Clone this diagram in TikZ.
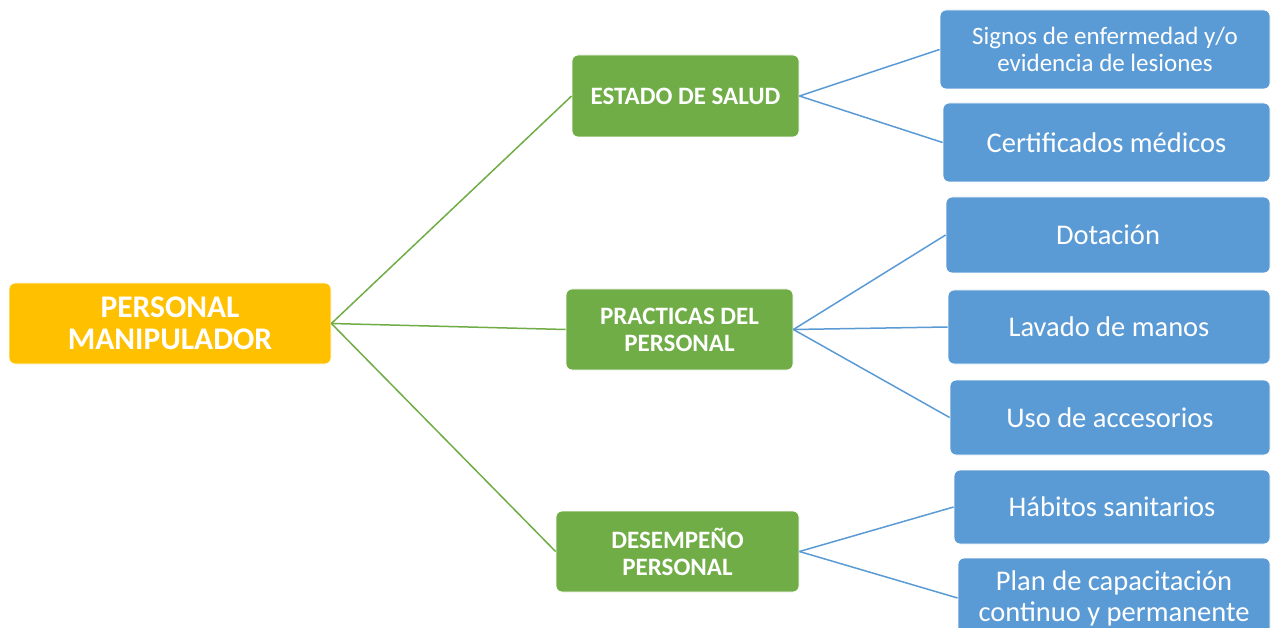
\documentclass[tikz,border=0pt]{standalone}
\usepackage{fontspec}
\setmainfont{Carlito}
\definecolor{rootc}{HTML}{FFC000}
\definecolor{greenc}{HTML}{70AD47}
\definecolor{bluec}{HTML}{5B9BD5}
\begin{document}
\begin{tikzpicture}[x=1pt,y=-1pt,
  box/.style={rectangle, rounded corners=6pt, inner sep=0pt, text=white, align=center, draw=white, line width=0.8pt},
  rootbox/.style={box, fill=rootc, font=\fontsize{31.5}{32}\selectfont\bfseries},
  midbox/.style={box, fill=greenc, font=\fontsize{25}{27}\selectfont\bfseries},
  leafbox/.style={box, fill=bluec, font=\fontsize{28.5}{31}\selectfont},
  gline/.style={draw=greenc, line width=1.5pt},
  bline/.style={draw=bluec, line width=1.5pt}]
\clip (0,0) rectangle (1272,628);
\fill[white] (0,0) rectangle (1272,628);
\node[rootbox, minimum width=322, minimum height=81] (root) at (170,323.5) {PERSONAL\\MANIPULADOR};
\node[midbox, minimum width=227, minimum height=82] (estado) at (685.5,96) {ESTADO DE SALUD};
\node[midbox, minimum width=227, minimum height=81] (practicas) at (679.5,329.5) {PRACTICAS DEL\\PERSONAL};
\node[midbox, minimum width=243, minimum height=81] (desempeno) at (677.5,551.5) {DESEMPEÑO\\PERSONAL};
\node[leafbox, minimum width=330, minimum height=79, font=\fontsize{25}{27}\selectfont] (signos) at (1105,49.5) {Signos de enfermedad y/o\\evidencia de lesiones};
\node[leafbox, minimum width=327, minimum height=79] (cert) at (1106.5,142.5) {Certificados médicos};
\node[leafbox, minimum width=324, minimum height=76] (dotacion) at (1108,235) {Dotación};
\node[leafbox, minimum width=322, minimum height=74] (lavado) at (1109,327) {Lavado de manos};
\node[leafbox, minimum width=320, minimum height=75] (uso) at (1110,417.5) {Uso de accesorios};
\node[leafbox, minimum width=316, minimum height=74] (habitos) at (1112,507) {Hábitos sanitarios};
\node[leafbox, minimum width=312, minimum height=80] (plan) at (1114,598) {Plan de capacitación\\continuo y permanente};
\draw[gline] (root.east) -- (estado.west);
\draw[gline] (root.east) -- (practicas.west);
\draw[gline] (root.east) -- (desempeno.west);
\draw[bline] (estado.east) -- (signos.west);
\draw[bline] (estado.east) -- (cert.west);
\draw[bline] (practicas.east) -- (dotacion.west);
\draw[bline] (practicas.east) -- (lavado.west);
\draw[bline] (practicas.east) -- (uso.west);
\draw[bline] (desempeno.east) -- (habitos.west);
\draw[bline] (desempeno.east) -- (plan.west);
\end{tikzpicture}
\end{document}
